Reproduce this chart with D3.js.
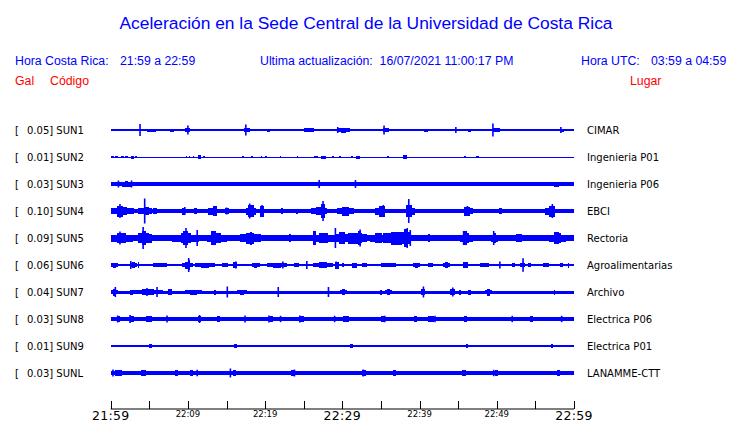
<!DOCTYPE html>
<html><head><meta charset="utf-8">
<script src="https://cdn.jsdelivr.net/npm/d3@7"></script>
<style>body{margin:0;background:#fff}svg{display:block}</style>
</head><body>
<script>
// ---- data ----
const codes  = ["SUN1","SUN2","SUN3","SUN4","SUN5","SUN6","SUN7","SUN8","SUN9","SUNL"];
const gals   = ["0.05","0.01","0.03","0.10","0.09","0.06","0.04","0.03","0.01","0.03"];
const places = ["CIMAR","Ingenieria P01","Ingenieria P06","EBCI","Rectoria","Agroalimentarias","Archivo","Electrica P06","Electrica P01","LANAMME-CTT"];
// background noise half-amplitude (relative units)
const baseAmp = [0.6,0.5,1.8,2,3,1.3,1.5,2,1.3,2];
// bursts: [start minute, end minute, half-amplitude]
const bursts = [
 [[0.5,2.3,1.3],[3.8,6.8,1.5],[7.7,8.2,1.5],[9.2,10.7,2],[11.2,15.2,1.3],[16.8,18.5,2],[18.5,19.1,1.2],[20.0,20.9,1.5],[22.6,22.9,1.2],[24.1,27.2,1.6],[29.3,31.0,2.5],[32.4,32.6,1.2],[34.8,36.5,1.8],[38.4,38.8,1.2],[40.2,41.4,1.5],[44.9,45.2,1.2],[46.0,47.0,1.5],[48.8,51.2,1.8],[51.7,52.6,1.3],[54.0,54.7,1.3],[56.2,56.4,1.2],[58.0,59.0,1.5],[59.5,60,1.2]],
 [[0.1,0.4,1.2],[0.6,0.9,1.2],[1.3,1.7,1.3],[1.9,2.3,1.2],[2.6,3.0,1.5],[3.2,3.4,1.2],[9.7,9.9,1.2],[10.1,10.3,1.3],[10.6,10.8,1.2],[11.3,11.7,2],[12.0,12.2,1.2],[17.0,17.2,1.2],[18.2,18.4,1.3],[19.4,19.6,1.2],[20.0,20.2,1.3],[21.9,22.1,1.2],[24.1,24.3,1.2],[26.3,26.9,1.3],[27.2,27.9,1.5],[28.7,28.9,1.2],[29.6,29.8,1.2],[31.1,31.4,1.3],[31.8,32.3,1.5],[35.8,36.0,1.2],[37.9,38.4,2.2],[45.8,46.0,1.2],[47.3,47.7,1.3]],
 [[0.5,3.5,2.5],[1.5,2.5,3],[25.5,26.5,2.2],[43.5,44.2,2.2],[54.5,56.0,2.3],[57.0,58.5,2.5],[59.0,60,2.3]],
 [[0,3.0,4],[0.8,1.6,5.5],[3.0,5.0,2.7],[4.0,5.4,4],[5.1,6.4,3],[8.9,9.9,3.5],[10.5,11.5,3],[12.2,13.7,3.5],[13.2,13.8,5],[14.8,15.3,3],[16.5,19.8,3.5],[17.8,18.5,6],[19.3,19.8,5.5],[22.0,22.3,3],[24.0,24.3,2.5],[26.0,28.0,4],[27.2,27.8,7],[29.3,31.5,4.5],[33.6,35.8,3.5],[34.8,35.5,5.5],[37.5,40.3,3.5],[38.2,39.0,6],[44.8,47.8,3],[45.8,46.5,4.5],[50.0,50.9,3],[55.6,57.8,3.5],[56.8,57.5,5.5]],
 [[0,2.9,5],[2.9,6.4,4.5],[3.6,5.0,7],[8.0,11.5,5],[9.3,10.0,7],[12.5,15.0,5],[13.0,13.6,7],[16.7,19.4,5.5],[17.8,18.6,6.5],[22.8,23.6,4],[26.2,29.0,5],[26.2,26.6,7],[29.0,31.0,6],[29.7,33.2,5.5],[31.8,32.6,7],[33.6,35.8,5],[35.3,38.8,6.5],[37.7,38.8,9],[40.8,41.6,4],[45.2,46.9,5],[45.6,46.1,7],[49.3,50.2,5],[52.0,53.8,4],[56.8,59.0,5],[57.4,58.0,6]],
 [[0,1.0,2.5],[2.5,3.4,3],[3.5,3.7,3],[4.2,8.6,2],[9.2,10.6,3.5],[10.0,10.3,5],[10.9,13.5,2.5],[14.4,15.2,2],[15.9,16.4,3],[18.3,19.3,2.5],[20.2,22.8,2.5],[23.3,24.8,1.8],[26.2,28.8,2.7],[29.1,29.6,3.5],[29.7,30.5,2],[31.3,31.9,2.5],[32.6,33.2,2],[33.6,38.4,2],[39.2,40.1,2.5],[41.1,41.7,2],[43.0,43.9,3],[45.6,46.3,3],[46.9,49.9,2],[51.7,52.6,2],[53.0,53.7,2],[54.0,54.4,2],[55.3,57.4,2],[58.2,58.6,2],[59.2,59.4,2.5]],
 [[0,1.0,3.5],[2.5,2.9,2.5],[2.9,6.8,2.7],[7.4,7.9,3],[9.6,11.8,2.5],[13.4,13.6,2.5],[15.0,15.2,3],[16.4,17.7,2.5],[29.7,30.6,3],[34.9,35.1,2.5],[35.5,36.4,3],[40.2,40.7,3],[43.9,44.6,3],[45.1,45.4,2.5],[46.3,46.6,2.5],[48.5,49.4,3.5],[57.4,57.6,2.5]],
 [[0.5,1.5,3],[2.0,3.5,3],[4.0,6.0,2.6],[11.0,12.0,3],[13.5,14.5,2.8],[20.5,21.0,2.8],[24.0,25.5,2.8],[29.5,31.5,2.8],[34.5,36.0,3],[39.0,40.0,2.7],[40.5,42.5,2.6],[45.5,46.5,2.8],[54.0,55.0,2.6]],
 [[5.0,5.3,1.6],[16.0,16.3,1.6],[31.0,31.4,1.6],[46.0,46.3,1.6],[57.0,57.3,1.6]],
 [[0,2,2.6],[3.5,5,2.6],[8,9,2.6],[10,11,2.8],[15.5,16.5,2.7],[23,24,2.6],[32.3,33.3,2.8],[36.5,37,2.7],[45,46.5,2.6],[49.5,50.5,2.8],[57.5,58.5,2.6]]
];
// spikes: [minute, half-amplitude]
const spikes = [
 [[3.8,6],[10.0,4.5],[17.5,5.5],[29.4,3],[35.4,4.5],[44.7,3],[49.5,6.5],[58.3,3]],
 [],
 [[1.0,3.5],[2.7,3.5],[27.0,4],[31.7,4]],
 [[1.2,7],[4.4,12.5],[9.6,4],[13.5,5],[15.0,3.5],[18.0,7.5],[19.6,6],[27.5,10],[35.3,6],[38.6,12],[46.2,5],[57.2,7]],
 [[1.2,6.5],[4.2,11],[9.75,10],[11.2,8],[13.1,7],[29.1,10],[32.3,8.5],[38.4,10],[38.8,8],[45.7,7],[49.6,7]],
 [[2.6,4],[10.1,7],[16.2,3.5],[22.3,3.5],[25.4,4],[29.2,3.5],[50.4,3.5],[53.4,6.7]],
 [[0.6,5],[4.7,4],[6.0,5],[15.1,5.5],[21.7,5],[28.2,5],[40.5,5.5],[44.3,4.5]],
 [[0.9,3.5],[2.5,4],[7.3,3.5],[11.5,4],[17.4,3.5],[20.5,3.5],[22.0,3.2],[24.5,3.5],[29.0,3.2],[35.5,3.3],[42.0,3.2],[52.0,3.2],[58.4,3.2]],
 [],
 [[0.3,3.5],[11.2,3.2],[15.5,4.5],[23.8,3.5],[32.7,3.5],[49.6,3.2]]
];
const tickMinutes = d3.range(0, 61, 5);
const tickLabels = {0:"21:59",10:"22:09",20:"22:19",30:"22:29",40:"22:39",50:"22:49",60:"22:59"};
const majorTicks = [0,30,60];

// ---- drawing ----
const W = 740, H = 423;
const svg = d3.select("body").append("svg").attr("width", W).attr("height", H);
const x = d3.scaleLinear().domain([0,60]).range([110.7,574]);
const y = d3.scalePoint().domain(codes).range([130,373]);
const a = d3.scaleLinear().domain([-13,13]).range([13,-13]);
const blue = "#0000ff", red = "#ff0000";
const hdrFont = "'Liberation Sans', Arial, sans-serif";
const lblFont = "'DejaVu Sans', sans-serif";

svg.append("text").attr("x", 366).attr("y", 29).attr("text-anchor","middle")
  .attr("font-family", hdrFont).attr("font-size", 17.4).attr("fill", blue)
  .text("Aceleración en la Sede Central de la Universidad de Costa Rica");

const hdr = [
  [15,"Hora Costa Rica:",blue,65],[120,"21:59 a 22:59",blue,65],
  [260,"Ultima actualización:  16/07/2021 11:00:17 PM",blue,65],
  [581,"Hora UTC:",blue,65],[651,"03:59 a 04:59",blue,65],
  [15,"Gal",red,85],[50,"Código",red,85],[630,"Lugar",red,85]
];
svg.selectAll("text.hdr").data(hdr).join("text").attr("class","hdr")
  .attr("x", d=>d[0]).attr("y", d=>d[3]).attr("fill", d=>d[2])
  .attr("font-family", hdrFont).attr("font-size", 12.3)
  .style("white-space","pre").text(d=>d[1]);

const rows = svg.selectAll("g.row").data(codes).join("g").attr("class","row")
  .attr("transform", d=>`translate(0,${y(d)})`);

rows.append("text").attr("x",15).attr("y",4).attr("font-family",lblFont).attr("font-size",10).attr("fill","#000").text("[");
rows.append("text").attr("x",27).attr("y",4).attr("font-family",lblFont).attr("font-size",10).attr("fill","#000")
  .style("white-space","pre").text((d,i)=>gals[i]+"] "+d);
rows.append("text").attr("x",587).attr("y",4).attr("font-family",lblFont).attr("font-size",10).attr("fill","#000")
  .text((d,i)=>places[i]);

rows.append("rect").attr("x", x(0)).attr("width", x(60)-x(0))
  .attr("y",(d,i)=>a(baseAmp[i])).attr("height",(d,i)=>a(-baseAmp[i])-a(baseAmp[i]))
  .attr("fill", blue).attr("shape-rendering","crispEdges");

// burst shape: short bursts as blocks, long ones stepped (lower shoulders, full middle)
function burstPath(b, base){
  const [t0,t1,amp] = b;
  const xs = x(t0), xe = Math.max(x(t0)+1, x(t1));
  if (t1 - t0 <= 0.8) return `M${xs},${a(amp)}H${xe}V${a(-amp)}H${xs}Z`;
  const sh = Math.max(base, amp*0.7);
  const m0 = x(t0 + (t1-t0)*0.3), m1 = x(t1 - (t1-t0)*0.3);
  return `M${xs},${a(sh)}H${m0}V${a(amp)}H${m1}V${a(sh)}H${xe}V${a(-sh)}H${m1}V${a(-amp)}H${m0}V${a(-sh)}H${xs}Z`;
}

rows.each(function(d,i){
  const g = d3.select(this);
  g.selectAll("path.b").data(bursts[i]).join("path").attr("class","b")
    .attr("d", b=>burstPath(b, baseAmp[i]))
    .attr("fill", blue).attr("shape-rendering","crispEdges");
  g.selectAll("line.s").data(spikes[i]).join("line").attr("class","s")
    .attr("x1", s=>x(s[0])).attr("x2", s=>x(s[0]))
    .attr("y1", s=>a(s[1])).attr("y2", s=>a(-s[1]))
    .attr("stroke", blue).attr("stroke-width", 1.6);
});

// time axis
const ax = svg.append("g").attr("transform","translate(0,409)");
ax.append("line").attr("x1", x(0)).attr("x2", x(60)).attr("stroke","#000").attr("stroke-width",1);
ax.selectAll("line.t").data(tickMinutes).join("line").attr("class","t")
  .attr("x1", d=>Math.round(x(d))+0.5).attr("x2", d=>Math.round(x(d))+0.5)
  .attr("y1",-8).attr("y2",0).attr("stroke","#000").attr("stroke-width",1);
ax.selectAll("text.tl").data(tickMinutes.filter(m=>tickLabels[m])).join("text").attr("class","tl")
  .attr("x", d=>x(d)).attr("y", d=>majorTicks.includes(d)?10.5:8)
  .attr("text-anchor","middle").attr("font-family",lblFont)
  .attr("font-size", d=>majorTicks.includes(d)?12.5:8.5)
  .attr("letter-spacing", d=>majorTicks.includes(d)?0.3:0)
  .attr("fill","#000").text(d=>tickLabels[d]);
</script>
</body></html>
